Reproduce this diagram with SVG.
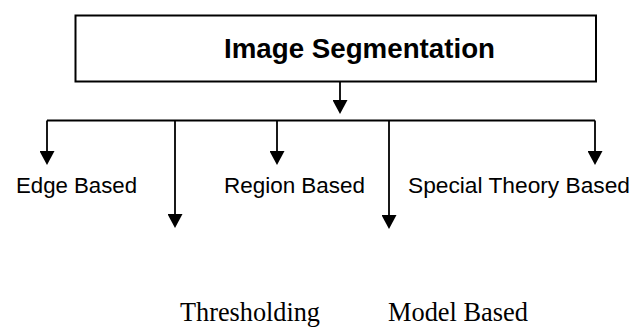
<svg xmlns="http://www.w3.org/2000/svg" width="635" height="329" viewBox="0 0 635 329">
  <style>
    .box { fill: #ffffff; stroke: #000000; stroke-width: 2; }
    .conn { fill: none; stroke: #000000; stroke-width: 1.8; }
    .sans { font-family: "Liberation Sans", Arial, sans-serif; fill: #000000; }
    .serif { font-family: "Liberation Serif", "Times New Roman", serif; fill: #000000; }
    .title { font-size: 28px; font-weight: bold; }
    .label { font-size: 22px; }
    .slabel { font-size: 26.5px; }
  </style>
  <defs>
    <marker id="arrow" viewBox="0 -7.5 14 15" refX="4" refY="0" markerWidth="14" markerHeight="15" markerUnits="userSpaceOnUse" orient="auto">
      <path d="M0,-7.5 L14,0 L0,7.5 z" fill="#000000"/>
    </marker>
  </defs>
  <rect width="635" height="329" fill="#ffffff"/>

  <g id="connectors">
    <path class="conn" d="M340,82 L340,104" marker-end="url(#arrow)"/>
    <path class="conn" d="M47,120.5 L595,120.5"/>
    <path class="conn" d="M47,120.5 L47,155" marker-end="url(#arrow)"/>
    <path class="conn" d="M175,120.5 L175,218" marker-end="url(#arrow)"/>
    <path class="conn" d="M277,120.5 L277,155" marker-end="url(#arrow)"/>
    <path class="conn" d="M389,120.5 L389,219" marker-end="url(#arrow)"/>
    <path class="conn" d="M595,120.5 L595,155" marker-end="url(#arrow)"/>
  </g>

  <g id="image-segmentation">
    <rect class="box" x="75.5" y="15.5" width="520.5" height="66"/>
    <text class="sans title" x="224" y="58" textLength="271" lengthAdjust="spacingAndGlyphs">Image Segmentation</text>
  </g>

  <g id="edge-based">
    <text class="sans label" x="16" y="193" textLength="121" lengthAdjust="spacingAndGlyphs">Edge Based</text>
  </g>

  <g id="region-based">
    <text class="sans label" x="224" y="193" textLength="141" lengthAdjust="spacingAndGlyphs">Region Based</text>
  </g>

  <g id="special-theory-based">
    <text class="sans label" x="408" y="193" textLength="222" lengthAdjust="spacingAndGlyphs">Special Theory Based</text>
  </g>

  <g id="thresholding">
    <text class="serif slabel" x="180" y="321" textLength="140" lengthAdjust="spacingAndGlyphs">Thresholding</text>
  </g>

  <g id="model-based">
    <text class="serif slabel" x="388" y="321" textLength="140" lengthAdjust="spacingAndGlyphs">Model Based</text>
  </g>
</svg>
